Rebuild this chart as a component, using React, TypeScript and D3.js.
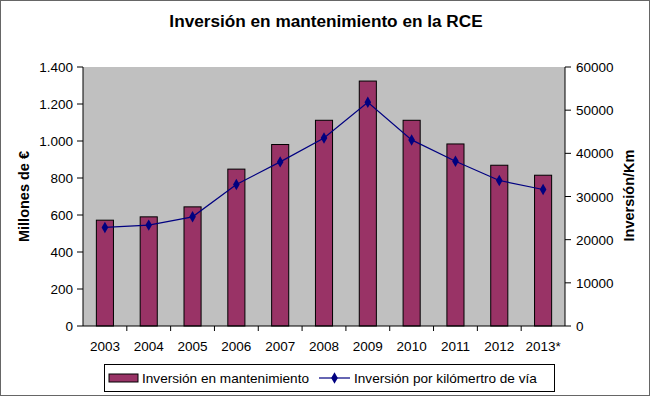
import React from "react";
import * as d3 from "d3";

const years = ["2003", "2004", "2005", "2006", "2007", "2008", "2009", "2010", "2011", "2012", "2013*"];
const inversion = [572, 590, 644, 848, 981, 1112, 1324, 1112, 984, 869, 815];
const porKm = [22840, 23370, 25290, 32790, 38020, 43570, 51830, 43110, 38180, 33710, 31630];
const leftTicks = [0, 200, 400, 600, 800, 1000, 1200, 1400];
const rightTicks = [0, 10000, 20000, 30000, 40000, 50000, 60000];

const W = 650;
const H = 397;
const plot = { left: 83, right: 565, top: 67, bottom: 326 };
const font = "Arial, 'Liberation Sans', sans-serif";

const fmtLeft = (v: number) => d3.format(",")(v).replace(/,/g, ".");

const App = () => {
  const x = d3.scaleBand<string>().domain(years).range([plot.left, plot.right]).padding(0);
  const yL = d3.scaleLinear().domain([0, 1400]).range([plot.bottom, plot.top]);
  const yR = d3.scaleLinear().domain([0, 60000]).range([plot.bottom, plot.top]);
  const barW = x.bandwidth() * 0.39;
  const cx = (d: string) => (x(d) as number) + x.bandwidth() / 2;

  const line = d3
    .line<number>()
    .x((_, i) => cx(years[i]))
    .y((d) => yR(d));

  const diamond = d3.symbol().type(d3.symbolDiamond).size(38)();

  return (
    <svg width={W} height={H} style={{ position: "absolute", left: 0, top: 0, fontFamily: font }}>
      <rect x={0.5} y={0.5} width={W - 1} height={H - 2} fill="#fff" stroke="#666" />
      <text x={326} y={27} textAnchor="middle" fontSize={17.2} fontWeight="bold">
        Inversión en mantenimiento en la RCE
      </text>

      <rect
        x={plot.left}
        y={plot.top}
        width={plot.right - plot.left}
        height={plot.bottom - plot.top}
        fill="#c0c0c0"
      />

      {years.map((d, i) => (
        <rect
          key={d}
          x={cx(d) - barW / 2}
          y={yL(inversion[i])}
          width={barW}
          height={plot.bottom - yL(inversion[i])}
          fill="#993366"
          stroke="#000"
          strokeWidth={1}
        />
      ))}

      <path d={line(porKm) || ""} fill="none" stroke="#000080" strokeWidth={1.2} />
      {porKm.map((v, i) => (
        <path key={i} d={diamond} transform={`translate(${cx(years[i])},${yR(v)})`} fill="#000080" />
      ))}

      {/* left axis */}
      <line x1={plot.left} x2={plot.left} y1={plot.top} y2={plot.bottom} stroke="#000" />
      {leftTicks.map((t) => (
        <g key={t}>
          <line x1={plot.left - 6} x2={plot.left} y1={yL(t)} y2={yL(t)} stroke="#000" />
          <text x={plot.left - 10} y={yL(t) + 5} textAnchor="end" fontSize={13.5}>
            {fmtLeft(t)}
          </text>
        </g>
      ))}

      {/* right axis */}
      <line x1={plot.right} x2={plot.right} y1={plot.top} y2={plot.bottom} stroke="#000" />
      {rightTicks.map((t) => (
        <g key={t}>
          <line x1={plot.right} x2={plot.right + 6} y1={yR(t)} y2={yR(t)} stroke="#000" />
          <text x={plot.right + 11} y={yR(t) + 5} fontSize={13.5}>
            {t}
          </text>
        </g>
      ))}

      {/* bottom axis */}
      <line x1={plot.left} x2={plot.right} y1={plot.bottom} y2={plot.bottom} stroke="#000" />
      {years.map((d, i) => (
        <g key={d}>
          {i > 0 && (
            <line
              x1={x(d) as number}
              x2={x(d) as number}
              y1={plot.bottom}
              y2={plot.bottom + 5}
              stroke="#000"
            />
          )}
          <text x={cx(d)} y={351} textAnchor="middle" fontSize={13.5}>
            {d}
          </text>
        </g>
      ))}

      <text
        transform={`translate(29,${(plot.top + plot.bottom) / 2}) rotate(-90)`}
        textAnchor="middle"
        fontSize={14.5}
        fontWeight="bold"
      >
        Millones de €
      </text>
      <text
        transform={`translate(634,${(plot.top + plot.bottom) / 2 - 1}) rotate(-90)`}
        textAnchor="middle"
        fontSize={14.5}
        fontWeight="bold"
      >
        Inversión/Km
      </text>

      {/* legend */}
      <rect x={104.5} y={364.5} width={450} height={27} fill="#fff" stroke="#000" />
      <rect x={109} y={374} width={29} height={8} fill="#993366" stroke="#000" />
      <text x={142} y={383} fontSize={13.6}>
        Inversión en mantenimiento
      </text>
      <line x1={319} x2={350} y1={378} y2={378} stroke="#000080" strokeWidth={1.2} />
      <path d={diamond} transform="translate(334.5,378)" fill="#000080" />
      <text x={354} y={383} fontSize={13.6}>
        Inversión por kilómertro de vía
      </text>
    </svg>
  );
};

export default App;
